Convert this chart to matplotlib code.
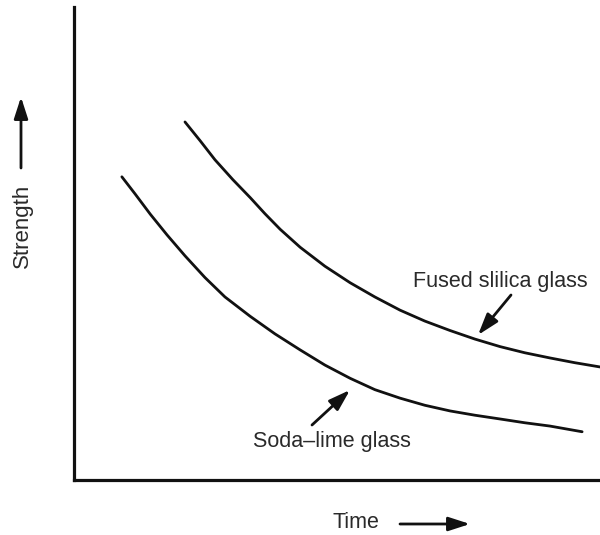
import matplotlib
matplotlib.use("Agg")
import matplotlib.pyplot as plt

# Data (arbitrary units: time 0-100, strength 0-100)
fused_time = [21.1, 24.0, 26.8, 30.2, 33.5, 36.3, 39.2, 43.0, 47.7, 52.5, 57.2, 62.0,
              66.7, 71.5, 76.2, 81.0, 85.7, 90.5, 95.2, 100.0]
fused_strength = [75.7, 71.7, 67.7, 63.5, 59.7, 56.3, 53.0, 49.2, 45.2, 41.7, 38.7, 35.9,
                  33.6, 31.6, 29.8, 28.2, 26.9, 25.8, 24.8, 23.9]
soda_time = [9.1, 11.6, 14.5, 17.7, 21.1, 24.9, 28.7, 33.5, 38.2, 43.0, 47.7, 52.5, 57.2,
             62.0, 66.7, 71.5, 76.2, 81.0, 85.7, 90.5, 96.6]
soda_strength = [64.1, 60.5, 56.2, 51.8, 47.4, 42.8, 38.7, 34.6, 30.9, 27.5, 24.3, 21.5, 19.1,
                  17.3, 15.8, 14.6, 13.7, 12.9, 12.1, 11.4, 10.2]

labels = {"x": "Time", "y": "Strength", "fused": "Fused slilica glass", "soda": "Soda\u2013lime glass"}

plt.rcParams['font.family'] = ['Liberation Sans', 'DejaVu Sans']

W, H = 600, 535
fig = plt.figure(figsize=(W / 100, H / 100), dpi=100)
ax = fig.add_axes([74 / W, 1 - 480 / H, (600 - 74) / W, (480 - 7) / H])
ax.set_xlim(0, 100)
ax.set_ylim(0, 100)
for s in ["top", "right"]:
    ax.spines[s].set_visible(False)
for s in ["left", "bottom"]:
    ax.spines[s].set_linewidth(2.3)
    ax.spines[s].set_color("#111111")
ax.set_xticks([])
ax.set_yticks([])
ax.patch.set_alpha(0)

ax.plot(fused_time, fused_strength, color="#111111", lw=2.0, solid_capstyle="round",
        solid_joinstyle="round", clip_on=False)
ax.plot(soda_time, soda_strength, color="#111111", lw=2.0, solid_capstyle="round",
        solid_joinstyle="round", clip_on=False)

tc = "#2a2a2a"
fs = 15.5

def fp(x, y):
    return (x, H - y)

fig.text(356 / W, 1 - 522 / H, labels["x"], ha="center", va="center", fontsize=fs, color=tc)
fig.text(22 / W, 1 - 226 / H, labels["y"], ha="center", va="center", rotation=90, fontsize=16, color=tc)
fig.text(500 / W, 1 - 282 / H, labels["fused"], ha="center", va="center", fontsize=fs, color=tc)
fig.text(332 / W, 1 - 442 / H, labels["soda"], ha="center", va="center", fontsize=fs, color=tc)

astyle = dict(arrowstyle="-|>,head_length=1.3,head_width=0.42", color="#111111", lw=2.0,
              shrinkA=0, shrinkB=0)
arrows = [((21, 168), (21, 97)), ((400, 524), (470, 524)),
          ((511, 295), (478, 335)), ((312, 425), (350, 390))]
for tail, tip in arrows:
    ax.annotate("", xy=fp(*tip), xycoords="figure pixels", xytext=fp(*tail),
                textcoords="figure pixels", arrowprops=astyle, annotation_clip=False)

fig.savefig("out.png", dpi=100, facecolor="white")
